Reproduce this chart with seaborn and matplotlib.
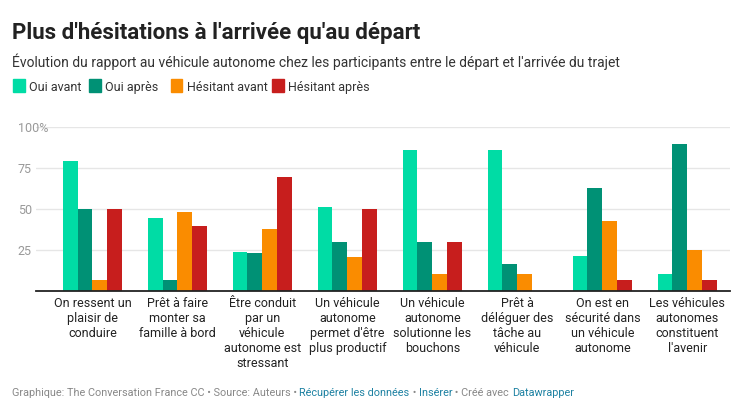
import matplotlib
matplotlib.use("Agg")
import matplotlib.pyplot as plt
import seaborn as sns
import pandas as pd

categories = [
    "On ressent un\nplaisir de\nconduire",
    "Prêt à faire\nmonter sa\nfamille à bord",
    "Être conduit\npar un\nvéhicule\nautonome est\nstressant",
    "Un véhicule\nautonome\npermet d'être\nplus productif",
    "Un véhicule\nautonome\nsolutionne les\nbouchons",
    "Prêt à\ndéléguer des\ntâche au\nvéhicule",
    "On est en\nsécurité dans\nun véhicule\nautonome",
    "Les véhicules\nautonomes\nconstituent\nl'avenir",
]
series = ["Oui avant", "Oui après", "Hésitant avant", "Hésitant après"]
oui_avant = [79.4, 44.5, 23.7, 51.2, 86.1, 86.1, 21.2, 10.2]
oui_apres = [50, 6.5, 23, 29.8, 29.8, 16.3, 62.9, 89.8]
hesitant_avant = [6.5, 48.2, 37.8, 20.6, 10.2, 10.2, 42.7, 24.9]
hesitant_apres = [50, 39.6, 69.6, 50, 29.8, 0, 6.5, 6.5]
colors = ["#00dca5", "#009175", "#fa8c00", "#c71e1d"]

rows = []
for s, vals in zip(series, [oui_avant, oui_apres, hesitant_avant, hesitant_apres]):
    for c, v in zip(categories, vals):
        rows.append({"cat": c, "serie": s, "val": v})
df = pd.DataFrame(rows)

sns.set_style("white")
plt.rcParams["font.family"] = ["Roboto", "DejaVu Sans"]

fig = plt.figure(figsize=(7.32, 4.07), dpi=100)
ax = fig.add_axes([0.049, 0.285, 0.948, 0.403])
sns.barplot(data=df, x="cat", y="val", hue="serie", palette=colors,
            width=0.7, saturation=1, linewidth=0, ax=ax, legend=False)
ax.set_ylim(0, 100)
ax.set_xlim(-0.665, 7.5)
ax.set_yticks([25, 50, 75, 100])
ax.set_yticklabels(["25", "50", "75", "100%"], color="#999999", fontsize=9)
ax.tick_params(axis="y", length=0, pad=-2)
for lab in ax.get_yticklabels():
    lab.set_horizontalalignment("left")
    lab.set_x(-0.03)
ax.grid(axis="y", color="#e6e6e6", lw=1)
ax.set_axisbelow(True)
for sp in ["top", "right", "left"]:
    ax.spines[sp].set_visible(False)
ax.spines["bottom"].set_color("#222222")
ax.spines["bottom"].set_linewidth(1.3)
ax.tick_params(axis="x", length=0, labelsize=9, colors="#222222", pad=4)
ax.set_xlabel("")
ax.set_ylabel("")

fig.text(0.016, 0.905, "Plus d'hésitations à l'arrivée qu'au départ",
         fontsize=16, fontweight="bold", color="#222222")
fig.text(0.016, 0.835, "Évolution du rapport au véhicule autonome chez les participants entre le départ et l'arrivée du trajet",
         fontsize=10, color="#333333")
lx = [0.018, 0.122, 0.233, 0.372]
for x, s, c in zip(lx, series, colors):
    fig.patches.append(plt.Rectangle((x, 0.775), 0.016, 0.03, color=c,
                                     transform=fig.transFigure))
    fig.text(x + 0.022, 0.777, s, fontsize=9, color="#333333")

# footer pieces laid out one after another
renderer = fig.canvas.get_renderer()
x = 0.016
for txt, col in [("Graphique: The Conversation France CC • Source: Auteurs • ", "#888888"),
                 ("Récupérer les données", "#1d81a2"), (" • ", "#888888"),
                 ("Insérer", "#1d81a2"), (" • Créé avec ", "#888888"),
                 ("Datawrapper", "#1d81a2")]:
    t = fig.text(x, 0.028, txt, fontsize=7.8, color=col)
    bb = t.get_window_extent(renderer)
    x += bb.width / fig.bbox.width

fig.savefig("out.png", dpi=100)
